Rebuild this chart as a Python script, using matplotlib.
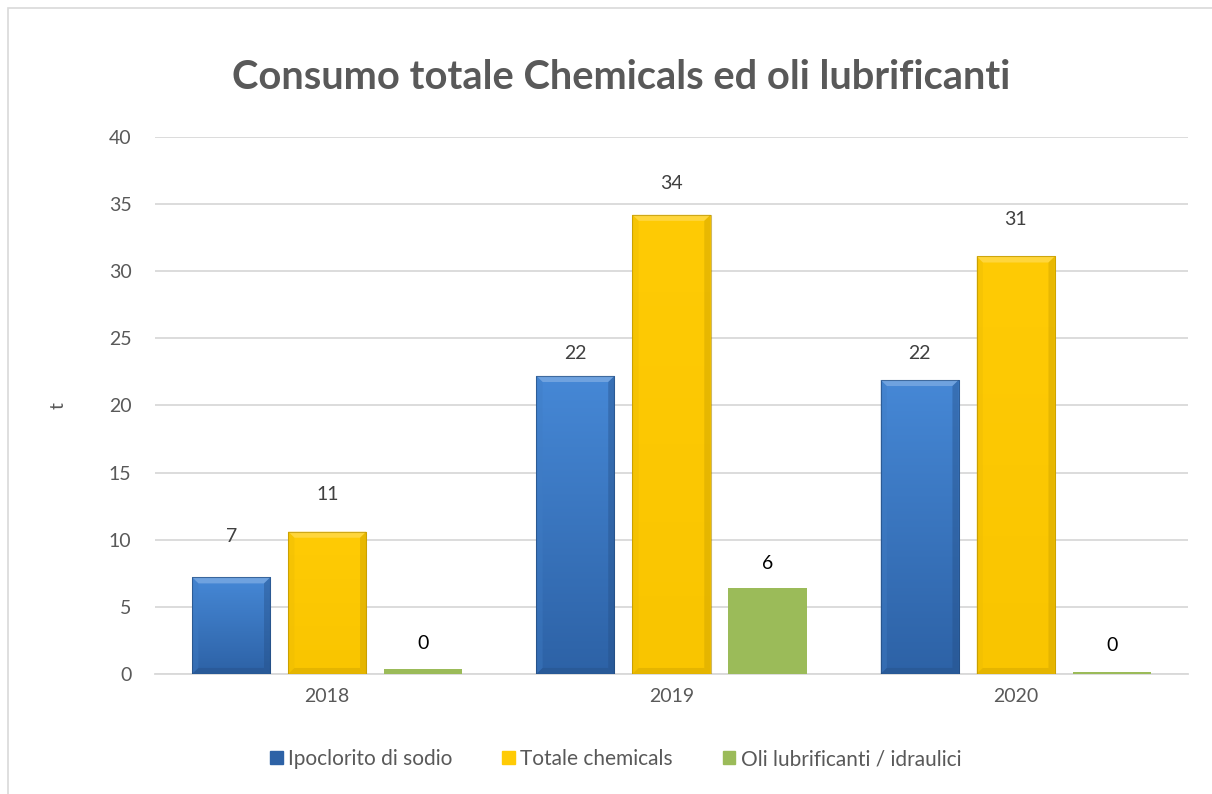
import numpy as np
import matplotlib.pyplot as plt
from matplotlib.patches import Polygon, Rectangle
from matplotlib.colors import to_rgb

# data
years = ['2018', '2019', '2020']
ipoclorito = [7.2, 22.2, 21.9]
totale_chemicals = [10.6, 34.2, 31.1]
oli = [0.35, 6.4, 0.15]
labels_ipo = ['7', '22', '22']
labels_tot = ['11', '34', '31']
labels_oli = ['0', '6', '0']
series_names = ['Ipoclorito di sodio', 'Totale chemicals', 'Oli lubrificanti / idraulici']

# label distance above bar top (pixels), as placed in the original
lift_ipo = [41, 22, 26]
lift_tot = [37, 31, 37]
lift_oli = [26, 25, 27]

plt.rcParams['font.family'] = ['Lato', 'DejaVu Sans']

fig = plt.figure(figsize=(12.12, 7.94), dpi=100)
ax = fig.add_axes([0.128, 0.1511, 0.852, 0.6764])

x = np.arange(len(years))
w = 0.227
step = 0.279


def shade(c, f):
    r = np.array(to_rgb(c))
    if f > 0:
        return tuple(r + (1 - r) * f)
    return tuple(r * (1 + f))


def bevel_bars(xs, vals, top_col, bot_col, bevel=True):
    bars = ax.bar(xs, vals, w, color=top_col, zorder=3, linewidth=0)
    for b in bars:
        x0, y0 = b.get_x(), b.get_y()
        bw, bh = b.get_width(), b.get_height()
        if not bevel:
            continue
        grad = np.linspace(0, 1, 100)[:, None, None]
        img = np.array(bot_col)[None, None, :] * grad + np.array(top_col)[None, None, :] * (1 - grad)
        img = img[::-1]
        im = ax.imshow(img, extent=(x0, x0 + bw, y0, y0 + bh), aspect='auto',
                       zorder=3.1, origin='lower')
        im.set_clip_path(b)
        dx = bw * 0.08
        dy = min(0.45, bh / 2)
        # top bevel
        ax.add_patch(Polygon([(x0, y0 + bh), (x0 + bw, y0 + bh), (x0 + bw - dx, y0 + bh - dy),
                              (x0 + dx, y0 + bh - dy)], closed=True, color=shade(top_col, 0.22),
                             zorder=3.2, linewidth=0))
        # sides
        ax.add_patch(Polygon([(x0, y0), (x0, y0 + bh), (x0 + dx, y0 + bh - dy), (x0 + dx, y0 + dy)],
                             closed=True, color=shade(top_col, -0.08), zorder=3.2, linewidth=0, alpha=0.4))
        ax.add_patch(Polygon([(x0 + bw, y0), (x0 + bw, y0 + bh), (x0 + bw - dx, y0 + bh - dy),
                              (x0 + bw - dx, y0 + dy)], closed=True, color=shade(bot_col, -0.2),
                             zorder=3.2, linewidth=0, alpha=0.4))
        ax.add_patch(Polygon([(x0, y0), (x0 + bw, y0), (x0 + bw - dx, y0 + dy), (x0 + dx, y0 + dy)],
                             closed=True, color=shade(bot_col, -0.2), zorder=3.2, linewidth=0, alpha=0.4))
        ax.add_patch(Rectangle((x0, y0), bw, bh, fill=False, edgecolor=shade(bot_col, -0.3),
                               linewidth=0.8, zorder=3.3, alpha=0.6))
    return bars


blue_top = to_rgb('#4688d6')
blue_bot = to_rgb('#2d62a6')
yel_top = to_rgb('#ffcb05')
yel_bot = to_rgb('#f9c500')
green = to_rgb('#9bbb59')

b1 = bevel_bars(x - step, ipoclorito, blue_top, blue_bot)
b2 = bevel_bars(x, totale_chemicals, yel_top, yel_bot)
b3 = bevel_bars(x + step, oli, green, green, bevel=False)

for bars, labs, lifts in [(b1, labels_ipo, lift_ipo), (b2, labels_tot, lift_tot), (b3, labels_oli, lift_oli)]:
    for b, lab, lift in zip(bars, labs, lifts):
        ax.annotate(lab, (b.get_x() + b.get_width() / 2, b.get_height()),
                    xytext=(0, lift * 0.72), textcoords='offset points', ha='center', va='center',
                    fontsize=14, color='#000000' if bars is b3 else '#404040')

ax.set_xlim(-0.5, 2.5)
ax.set_ylim(0, 40)
ax.set_yticks(np.arange(0, 41, 5))
ax.set_xticks(x)
ax.set_xticklabels(years)
ax.yaxis.grid(True, color='#d9d9d9', linewidth=1.3, zorder=0)
ax.set_axisbelow(True)
for s in ['top', 'right', 'left']:
    ax.spines[s].set_visible(False)
ax.spines['bottom'].set_color('#d9d9d9')
ax.spines['bottom'].set_linewidth(1.3)
ax.tick_params(axis='both', length=0, labelsize=14, colors='#595959', pad=10)
ax.tick_params(axis='y', pad=17)
ax.set_ylabel('t', fontsize=14, color='#595959', labelpad=30)

fig.text(0.5125, 0.902, 'Consumo totale Chemicals ed oli lubrificanti', ha='center', va='center',
         fontsize=28.7, fontweight='bold', color='#595959')

handles = [Rectangle((0, 0), 1, 1, color=blue_bot), Rectangle((0, 0), 1, 1, color=yel_top),
           Rectangle((0, 0), 1, 1, color=green)]
fig.legend(handles, series_names, loc='center', bbox_to_anchor=(0.508, 0.044), ncol=3,
           frameon=False, fontsize=15, handlelength=0.6, handleheight=0.6, handletextpad=0.25,
           columnspacing=2.4, labelcolor='#595959')

fig.add_artist(Rectangle((0.007, -0.01), 1.1, 1.0, transform=fig.transFigure, fill=False,
                         edgecolor='#d9d9d9', linewidth=1.2))

fig.savefig('out.png', dpi=100)
